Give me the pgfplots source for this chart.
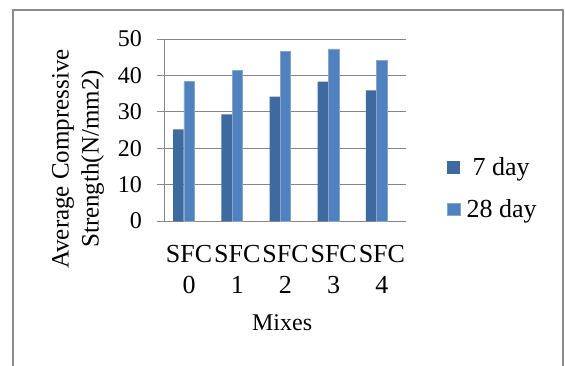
\documentclass[border=0pt]{standalone}
\usepackage{fontspec}
\setmainfont{Liberation Serif}
\usepackage{pgfplots}
\pgfplotsset{compat=1.18}
\definecolor{sevenday}{HTML}{3F6AA0}
\definecolor{tweight}{HTML}{4F81BD}
\definecolor{gridc}{HTML}{878787}
\definecolor{framec}{HTML}{8C8C8C}
\begin{document}
\begin{tikzpicture}
\useasboundingbox (-165pt,-144pt) rectangle (400pt,221pt);
\draw[framec, line width=1.5pt] (-152pt,-150pt) -- (-152pt,211pt) -- (398pt,211pt) -- (398pt,-150pt);
\begin{axis}[
  at={(0pt,0pt)}, anchor=south west,
  scale only axis, width=241pt, height=182pt,
  xmin=-0.5, xmax=4.5, ymin=0, ymax=50,
  ytick={0,10,20,30,40,50},
  xtick={0,1,2,3,4},
  xticklabels={SFC\\0,SFC\\1,SFC\\2,SFC\\3,SFC\\4},
  axis x line*=bottom, axis y line*=left,
  axis line style={gridc, line width=1pt},
  ymajorgrids, grid style={gridc, line width=1pt},
  major tick length=8pt, tick align=outside,
  ytick style={gridc, line width=1pt},
  xtick style={draw=none},
  /pgf/number format/assume math mode=true,
  yticklabel style={font=\fontsize{24}{28}\selectfont, anchor=east, inner sep=0pt, xshift=-15pt},
  xticklabel style={font=\fontsize{26}{30.6}\selectfont, align=center, anchor=north, inner sep=0pt, yshift=-16pt},
  ylabel={Average Compressive\\Strength(N/mm2)},
  ylabel style={font=\fontsize{25}{30}\selectfont, align=center, at={(axis description cs:-0.361,0.341)}, anchor=center},
  xlabel={Mixes},
  xlabel style={font=\fontsize{24}{28}\selectfont, at={(axis description cs:0.486,-0.599)}, anchor=base},
  legend style={at={(axis description cs:1.170,0.350)}, anchor=north west, draw=none, fill=none,
    font=\fontsize{26}{30}\selectfont, inner sep=0pt, row sep=22.6pt,
    nodes={inner sep=0pt}, cells={anchor=west},
    /tikz/every odd column/.append style={column sep=6pt}},
  legend image code/.code={\fill[#1] (0pt,-6.3pt) rectangle (13pt,6.3pt);},
]
\addplot[ybar, bar width=10.5pt, bar shift=-10.7pt, fill=sevenday, draw=none]
  coordinates {(0,25.2) (1,29.3) (2,34.2) (3,38.3) (4,35.9)};
\addlegendentry{\hspace{6pt}7 day}
\addplot[ybar, bar width=10.5pt, bar shift=0pt, fill=tweight, draw=tweight!70!white, line width=0.5pt]
  coordinates {(0,38.3) (1,41.3) (2,46.7) (3,47.3) (4,44.2)};
\addlegendentry{28 day}
\end{axis}
\end{tikzpicture}
\end{document}
